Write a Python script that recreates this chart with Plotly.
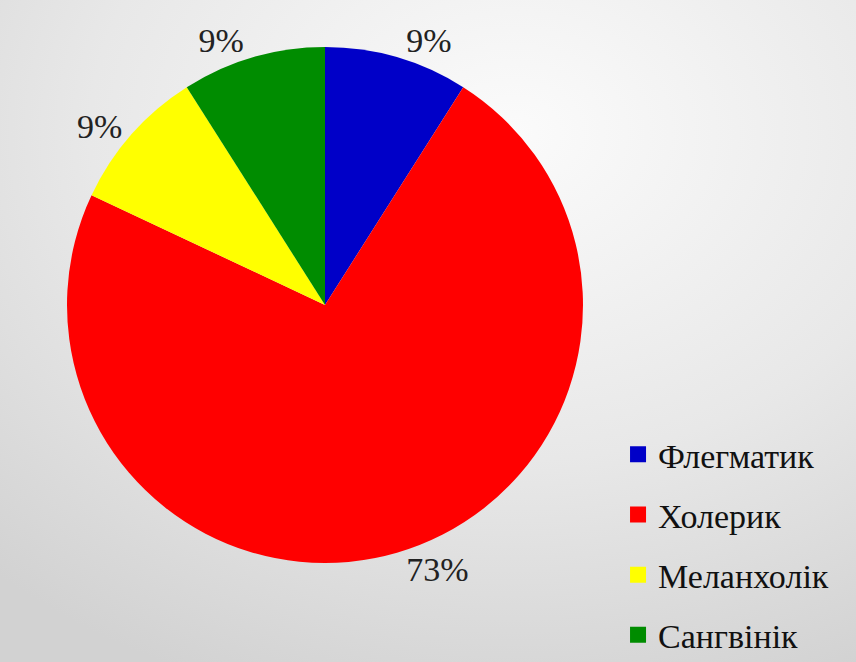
import base64
import plotly.graph_objects as go

categories = ["Флегматик", "Холерик", "Меланхолік", "Сангвінік"]
values = [9, 73, 9, 9]
colors = ["#0000c8", "#ff0000", "#ffff00", "#008c00"]

W, H = 856, 662

svg = f"""<svg xmlns='http://www.w3.org/2000/svg' width='{W}' height='{H}'>
<defs><radialGradient id='g' cx='0.6' cy='0.2' r='0.9'>
<stop offset='0' stop-color='#fbfbfb'/><stop offset='0.55' stop-color='#e8e8e8'/>
<stop offset='1' stop-color='#d2d2d2'/></radialGradient></defs>
<rect width='{W}' height='{H}' fill='url(#g)'/></svg>"""
bg_src = "data:image/svg+xml;base64," + base64.b64encode(svg.encode()).decode()

cx, cy, r = 325, 305, 258

fig = go.Figure()
fig.add_trace(go.Pie(
    labels=categories, values=values, sort=False, direction="clockwise", rotation=0,
    marker=dict(colors=colors, line=dict(width=0)),
    texttemplate="%{value}%", textposition="outside",
    textfont=dict(family="Liberation Serif", size=34, color="#222222"),
    domain=dict(x=[(cx - r) / W, (cx + r) / W], y=[(H - cy - r) / H, (H - cy + r) / H]),
    showlegend=False, hoverinfo="label+percent",
))
for name, col in zip(categories, colors):
    fig.add_trace(go.Scatter(x=[None], y=[None], mode="markers", name=name,
                             marker=dict(symbol="square", size=16, color=col),
                             legendgroup=name, showlegend=True))

fig.update_layout(
    width=W, height=H, margin=dict(l=0, r=0, t=0, b=0, autoexpand=False),
    paper_bgcolor="#dcdcdc", plot_bgcolor="rgba(0,0,0,0)",
    xaxis=dict(visible=False), yaxis=dict(visible=False),
    images=[dict(source=bg_src, xref="paper", yref="paper", x=0, y=1, sizex=1, sizey=1,
                 sizing="stretch", layer="below", xanchor="left", yanchor="top")],
    legend=dict(x=0.722, y=0.357, xanchor="left", yanchor="top",
                font=dict(family="Liberation Serif", size=34, color="#111111"),
                tracegroupgap=13, itemwidth=30, bgcolor="rgba(0,0,0,0)"),
)
fig.write_html("out.html", config={"displayModeBar": False},
               post_script="document.body.style.margin='0';")
